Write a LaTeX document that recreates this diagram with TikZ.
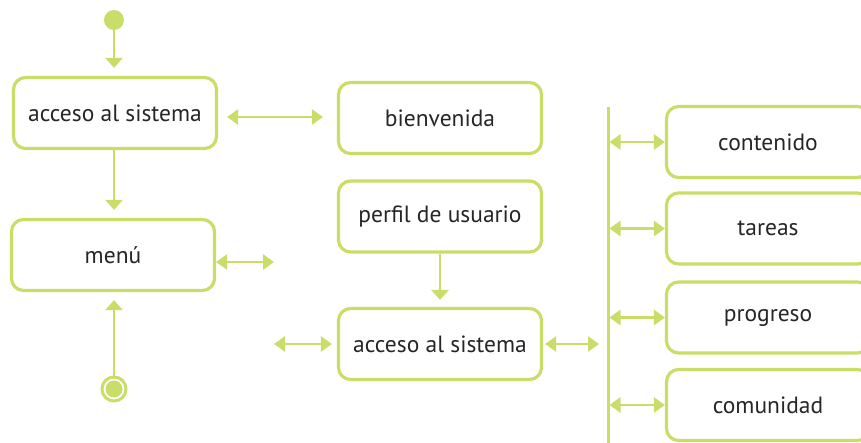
\documentclass[tikz,border=0pt]{standalone}
\usepackage{fontspec}
\setmainfont{PT Sans}
\usetikzlibrary{arrows.meta, positioning}
\definecolor{lime}{RGB}{200, 222, 104}
\definecolor{inkgray}{RGB}{38, 38, 38}

\begin{document}
\begin{tikzpicture}[x=1pt, y=-1pt,
        statebox/.style={draw=lime, line width=3.2pt, rounded corners=12pt, fill=white,
            minimum width=203pt, minimum height=71pt, inner sep=0pt,
            text=inkgray, font=\fontsize{23.5}{28}\selectfont},
        arr/.style={draw=lime, line width=2.7pt, -{Triangle[length=10pt, width=17pt]}},
        dbl/.style={draw=lime, line width=2.7pt, {Triangle[length=11pt, width=15pt]}-{Triangle[length=11pt, width=15pt]}},
        bar/.style={draw=lime, line width=3pt}]
        \useasboundingbox (0, 0) rectangle (861, 442);
        \clip (0, 0) rectangle (861, 442);

        \node [circle, fill=lime, inner sep=0pt, minimum size=20pt] (start) at (114, 20) {};
        \node [circle, draw=lime, line width=3pt, fill=white, inner sep=0pt, minimum size=24pt,
            path picture={\fill [lime] (path picture bounding box.center) circle (8.5pt);}] (fin) at (114, 389) {};

        \node [statebox] (acc1) at (115, 113) {acceso al sistema};
        \node [statebox] (menu) at (113, 255) {menú};
        \node [statebox] (bien) at (440, 118) {bienvenida};
        \node [statebox] (perfil) at (440, 216.5) {perfil de usuario};
        \node [statebox] (acc2) at (440, 344) {acceso al sistema};
        \node [statebox] (cont) at (768, 142) {contenido};
        \node [statebox] (tar) at (768, 228.5) {tareas};
        \node [statebox] (prog) at (768, 317.5) {progreso};
        \node [statebox] (com) at (768, 405) {comunidad};

        \coordinate (mfree) at (274, 262);
        \coordinate (afree) at (274, 344);
        \coordinate (bartop) at (608, 107);
        \coordinate (barbot) at (608, 445);

        \draw [arr, shorten >=8pt] (start) -- (start |- acc1.north);
        \draw [arr, shorten >=8pt] (acc1.south -| start) -- (start |- menu.north);
        \draw [arr, shorten >=8pt] (fin) -- (fin |- menu.south);
        \draw [arr, shorten >=7pt] (perfil.south) -- (acc2.north);

        \draw [dbl, shorten <=9pt, shorten >=14pt] (acc1.east |- 0, 117) -- (bien.west |- 0, 117);
        \draw [dbl] (menu.east |- mfree) -- (mfree);
        \draw [dbl, shorten >=5pt] (afree) -- (acc2.west);
        \draw [dbl, shorten <=2pt, shorten >=9pt] (acc2.east) -- (acc2.east -| bartop);

        \draw [bar] (bartop) -- (barbot);
        \draw [dbl, shorten <=1.5pt] (cont.west -| bartop) -- (cont.west);
        \draw [dbl, shorten <=1.5pt] (tar.west -| bartop) -- (tar.west);
        \draw [dbl, shorten <=1.5pt] (prog.west -| bartop) -- (prog.west);
        \draw [dbl, shorten <=1.5pt] (com.west -| bartop) -- (com.west);
\end{tikzpicture}
\end{document}
